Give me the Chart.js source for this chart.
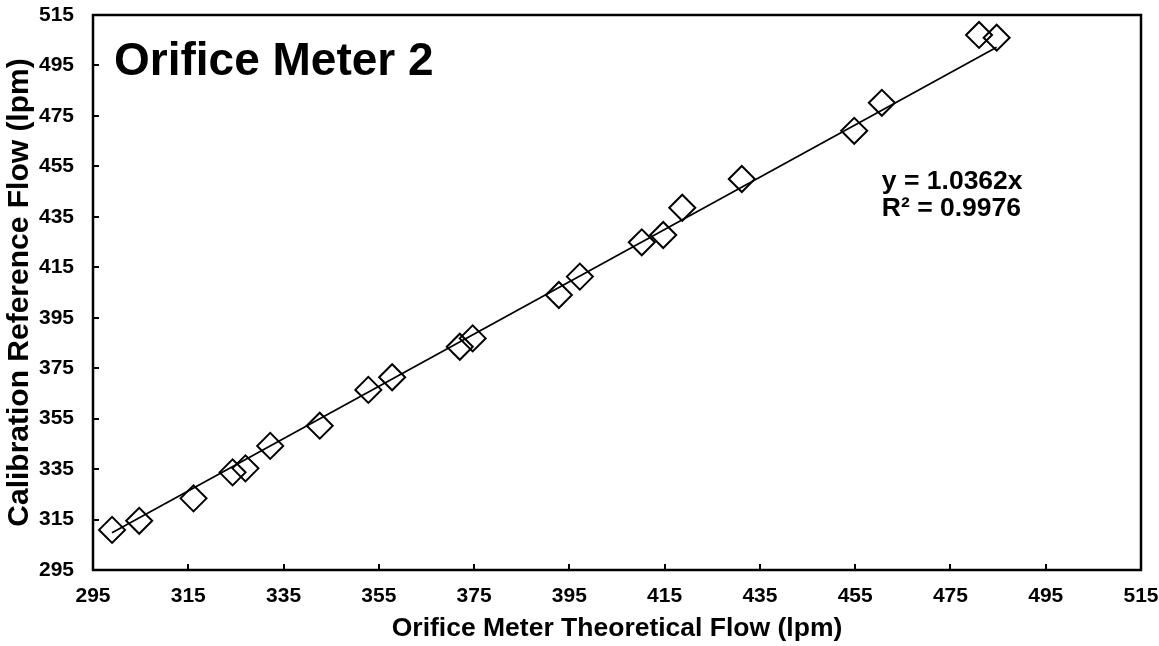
<!DOCTYPE html>
<html>
<head>
<meta charset="utf-8">
<title>Orifice Meter 2</title>
<script src="https://cdn.jsdelivr.net/npm/chart.js@4.4.0/dist/chart.umd.min.js"></script>
<style>
  html, body { margin: 0; padding: 0; background: #fff; }
  #wrap { width: 1159px; height: 646px; position: relative; }
</style>
</head>
<body>
<div id="wrap"><canvas id="chart"></canvas></div>
<script>
// measured points (theoretical flow vs reference flow, lpm)
const theoreticalFlow = [299.0, 304.7, 316.1, 324.3, 327.0, 332.2, 342.6, 352.8, 357.8, 372.0, 374.7,
                         392.8, 397.2, 410.2, 414.7, 418.7, 431.2, 454.8, 460.6, 481.0, 484.7];
const referenceFlow   = [310.9, 314.5, 323.4, 333.7, 335.3, 344.2, 352.2, 366.4, 371.4, 383.5, 386.8,
                         404.0, 411.3, 424.9, 427.8, 438.6, 450.0, 469.1, 480.2, 507.1, 506.0];

// linear trendline through origin, drawn over the data range
const trendX = [299.0, 484.7];
const trendY = [309.8, 502.2];

const tickValues = [295, 315, 335, 355, 375, 395, 415, 435, 455, 475, 495, 515];

const chartTitle = 'Orifice Meter 2';
const equationLines = ['y = 1.0362x', 'R\u00b2 = 0.9976'];
const xTitle = 'Orifice Meter Theoretical Flow (lpm)';
const yTitle = 'Calibration Reference Flow (lpm)';

const FONT = '"Liberation Sans", Arial, sans-serif';

const toXY = (xs, ys) => xs.map((x, i) => ({ x: x, y: ys[i] }));

// frame, inward tick marks and text annotations
const decorations = {
    id: 'decorations',
    afterDatasetsDraw(chart) {
        const ctx = chart.ctx;
        const area = chart.chartArea;
        const xs = chart.scales.x;
        const ys = chart.scales.y;
        ctx.save();
        ctx.strokeStyle = '#000';
        ctx.lineWidth = 2;
        ctx.beginPath();
        xs.ticks.forEach(t => {
            const px = Math.round(xs.getPixelForValue(t.value));
            ctx.moveTo(px, area.bottom);
            ctx.lineTo(px, area.bottom - 6);
        });
        ys.ticks.forEach(t => {
            const py = Math.round(ys.getPixelForValue(t.value));
            ctx.moveTo(area.left, py);
            ctx.lineTo(area.left + 6, py);
        });
        ctx.stroke();

        ctx.lineWidth = 2.5;
        ctx.strokeRect(area.left, area.top, area.right - area.left, area.bottom - area.top);

        ctx.fillStyle = '#000';
        ctx.textBaseline = 'middle';
        ctx.textAlign = 'left';
        ctx.font = 'bold 46px ' + FONT;
        ctx.fillText(chartTitle, area.left + 21, area.top + 47);

        ctx.font = 'bold 26.5px ' + FONT;
        const ex = xs.getPixelForValue(460.6);
        const ey = ys.getPixelForValue(448.8);
        equationLines.forEach((line, i) => ctx.fillText(line, ex, ey + i * 27));
        ctx.restore();
    }
};

new Chart(document.getElementById('chart'), {
    data: {
        datasets: [
            {
                type: 'scatter',
                data: toXY(theoreticalFlow, referenceFlow),
                pointStyle: 'rectRot',
                pointRadius: 13,
                pointHoverRadius: 13,
                pointBorderWidth: 2,
                pointBorderColor: '#000',
                pointBackgroundColor: 'rgba(0,0,0,0)'
            },
            {
                type: 'line',
                data: toXY(trendX, trendY),
                borderColor: '#000',
                borderWidth: 1.75,
                pointRadius: 0,
                fill: false
            }
        ]
    },
    options: {
        responsive: true,
        maintainAspectRatio: false,
        animation: false,
        layout: { padding: { top: 15, right: 18, bottom: 0, left: 0 } },
        plugins: { legend: { display: false }, tooltip: { enabled: false } },
        scales: {
            x: {
                type: 'linear',
                position: 'bottom',
                min: 295,
                max: 515,
                afterBuildTicks: s => { s.ticks = tickValues.map(v => ({ value: v })); },
                afterFit: s => { s.height = 76; s.paddingLeft = 0; s.paddingRight = 0; },
                grid: { display: false, drawTicks: false },
                border: { display: false },
                ticks: { color: '#000', padding: 14, maxRotation: 0, font: { family: FONT, size: 21, weight: 'bold' } },
                title: { display: true, text: xTitle, color: '#000', padding: { top: 0, bottom: 1 },
                         font: { family: FONT, size: 26.5, weight: 'bold' } }
            },
            y: {
                type: 'linear',
                min: 295,
                max: 515,
                afterBuildTicks: s => { s.ticks = tickValues.map(v => ({ value: v })); },
                afterFit: s => { s.width = 93; s.paddingTop = 0; s.paddingBottom = 0; },
                grid: { display: false, drawTicks: false },
                border: { display: false },
                ticks: { color: '#000', padding: 19, font: { family: FONT, size: 21, weight: 'bold' } },
                title: { display: true, text: yTitle, color: '#000', padding: { top: 2, bottom: 0 },
                         font: { family: FONT, size: 30, weight: 'bold' } }
            }
        }
    },
    plugins: [decorations]
});
</script>
</body>
</html>
